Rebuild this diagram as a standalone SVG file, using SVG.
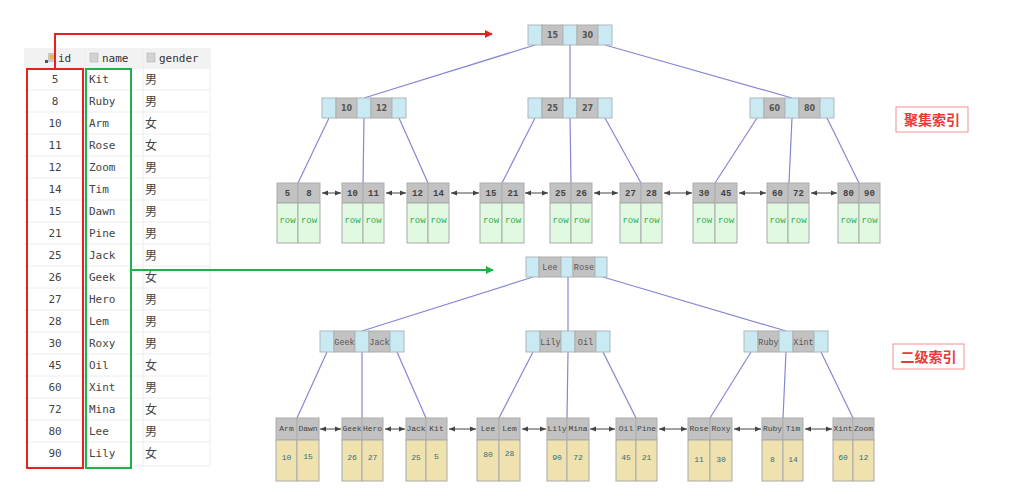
<svg xmlns="http://www.w3.org/2000/svg" width="1030" height="498" viewBox="0 0 1030 498">
<defs>
<style>
.c{fill:#c9eaf2;stroke:#adb8bb;stroke-width:1}
.g{fill:#c2c2c2;stroke:#adadad;stroke-width:1}
.gr{fill:#e0f9e0;stroke:#aaaaaa;stroke-width:1}
.ye{fill:#efe2ae;stroke:#aaaaaa;stroke-width:1}
.kn{font-family:"DejaVu Sans",sans-serif;font-weight:bold;font-size:8px;fill:#555;text-anchor:middle}
.ks{font-family:"Liberation Mono",monospace;font-size:8.5px;fill:#555;text-anchor:middle}
.ln{font-family:"Liberation Mono",monospace;font-weight:bold;font-size:9px;fill:#444;text-anchor:middle}
.rw{font-family:"Liberation Mono",monospace;font-size:9px;fill:#2fb04f;text-anchor:middle}
.sn{font-family:"Liberation Mono",monospace;font-size:8px;fill:#444;text-anchor:middle}
.sv{font-family:"Liberation Mono",monospace;font-size:8px;fill:#2f6f80;text-anchor:middle}
.e{stroke:#8686d6;stroke-width:1.2;fill:none}
.la{stroke:#444;stroke-width:1;fill:none;marker-start:url(#ah);marker-end:url(#ah)}
.tt{font-family:"DejaVu Sans Mono",monospace;font-size:11px;fill:#444}
.tc{font-family:"Noto Sans CJK SC",sans-serif;font-size:12px;fill:#444}
.th{font-family:"DejaVu Sans Mono",monospace;font-size:11px;fill:#333}
.rl{stroke:#ececec;stroke-width:1}
.lb{font-family:"Noto Sans CJK SC",sans-serif;font-size:14px;font-weight:bold;fill:#e83a3a;text-anchor:middle}
</style>
<marker id="ah" viewBox="0 0 10 10" refX="10" refY="5" markerWidth="6" markerHeight="6" orient="auto-start-reverse" markerUnits="userSpaceOnUse"><path d="M0,1 L10,5 L0,9 z" fill="#444"/></marker>
<marker id="ar" viewBox="0 0 10 10" refX="9" refY="5" markerWidth="8" markerHeight="8" orient="auto" markerUnits="userSpaceOnUse"><path d="M0,0 L10,5 L0,10 z" fill="#e82020"/></marker>
<marker id="ag" viewBox="0 0 10 10" refX="9" refY="5" markerWidth="8" markerHeight="8" orient="auto" markerUnits="userSpaceOnUse"><path d="M0,0 L10,5 L0,10 z" fill="#1db34a"/></marker>
</defs>
<rect width="1030" height="498" fill="#ffffff"/>

<!-- Table -->
<g id="table">
<rect x="24" y="48" width="186" height="20" fill="#f2f2f2"/>
<g class="rl">
<line x1="24" y1="68" x2="210" y2="68"/>
<line x1="24" y1="90" x2="210" y2="90"/>
<line x1="24" y1="112" x2="210" y2="112"/>
<line x1="24" y1="134" x2="210" y2="134"/>
<line x1="24" y1="156" x2="210" y2="156"/>
<line x1="24" y1="178" x2="210" y2="178"/>
<line x1="24" y1="200" x2="210" y2="200"/>
<line x1="24" y1="222" x2="210" y2="222"/>
<line x1="24" y1="244" x2="210" y2="244"/>
<line x1="24" y1="266" x2="210" y2="266"/>
<line x1="24" y1="288" x2="210" y2="288"/>
<line x1="24" y1="310" x2="210" y2="310"/>
<line x1="24" y1="332" x2="210" y2="332"/>
<line x1="24" y1="354" x2="210" y2="354"/>
<line x1="24" y1="376" x2="210" y2="376"/>
<line x1="24" y1="398" x2="210" y2="398"/>
<line x1="24" y1="420" x2="210" y2="420"/>
<line x1="24" y1="442" x2="210" y2="442"/>
<line x1="24" y1="466" x2="210" y2="466"/>
<line x1="85" y1="48" x2="85" y2="466"/>
<line x1="143" y1="48" x2="143" y2="466"/>
<line x1="210" y1="48" x2="210" y2="466"/>
</g>
<g id="icons">
<rect x="48" y="53" width="7" height="9" fill="#c8c8c8"/>
<rect x="45" y="60" width="3" height="3" fill="#555"/>
<rect x="50" y="55" width="4" height="4" fill="#e6b84a"/>
<rect x="90" y="53" width="8" height="9" fill="#d2d2d2" stroke="#b5b5b5" stroke-width="0.6"/>
<rect x="147" y="53" width="8" height="9" fill="#d2d2d2" stroke="#b5b5b5" stroke-width="0.6"/>
</g>
<text class="th" x="58" y="62">id</text>
<text class="th" x="102" y="62">name</text>
<text class="th" x="159" y="62">gender</text>
<g text-anchor="middle" class="tt">
<text x="55" y="83">5</text><text x="55" y="105">8</text><text x="55" y="127">10</text><text x="55" y="149">11</text>
<text x="55" y="171">12</text><text x="55" y="193">14</text><text x="55" y="215">15</text><text x="55" y="237">21</text>
<text x="55" y="259">25</text><text x="55" y="281">26</text><text x="55" y="303">27</text><text x="55" y="325">28</text>
<text x="55" y="347">30</text><text x="55" y="369">45</text><text x="55" y="391">60</text><text x="55" y="413">72</text>
<text x="55" y="435">80</text><text x="55" y="457">90</text>
</g>
<g class="tt">
<text x="89" y="83">Kit</text><text x="89" y="105">Ruby</text><text x="89" y="127">Arm</text><text x="89" y="149">Rose</text>
<text x="89" y="171">Zoom</text><text x="89" y="193">Tim</text><text x="89" y="215">Dawn</text><text x="89" y="237">Pine</text>
<text x="89" y="259">Jack</text><text x="89" y="281">Geek</text><text x="89" y="303">Hero</text><text x="89" y="325">Lem</text>
<text x="89" y="347">Roxy</text><text x="89" y="369">Oil</text><text x="89" y="391">Xint</text><text x="89" y="413">Mina</text>
<text x="89" y="435">Lee</text><text x="89" y="457">Lily</text>
</g>
<g class="tc">
<text x="145" y="84">男</text><text x="145" y="106">男</text><text x="145" y="128">女</text><text x="145" y="150">女</text>
<text x="145" y="172">男</text><text x="145" y="194">男</text><text x="145" y="216">男</text><text x="145" y="238">男</text>
<text x="145" y="260">男</text><text x="145" y="282">女</text><text x="145" y="304">男</text><text x="145" y="326">男</text>
<text x="145" y="348">男</text><text x="145" y="370">女</text><text x="145" y="392">男</text><text x="145" y="414">女</text>
<text x="145" y="436">男</text><text x="145" y="458">女</text>
</g>
<rect x="27" y="69" width="56" height="399" fill="none" stroke="#e82020" stroke-width="2"/>
<rect x="86" y="69" width="45" height="399" fill="none" stroke="#1db34a" stroke-width="2"/>
</g>

<!-- Connectors -->
<g id="connectors">
<path d="M55,69 V34 H492" fill="none" stroke="#e82020" stroke-width="2" marker-end="url(#ar)"/>
<path d="M132,270 H493" fill="none" stroke="#1db34a" stroke-width="2" marker-end="url(#ag)"/>
<line class="e" x1="535" y1="45" x2="364" y2="98"/>
<line class="e" x1="570" y1="45" x2="570" y2="98"/>
<line class="e" x1="605" y1="45" x2="792" y2="98"/>
<line class="e" x1="329" y1="118" x2="298" y2="183"/>
<line class="e" x1="364" y1="118" x2="363" y2="183"/>
<line class="e" x1="399" y1="118" x2="428" y2="183"/>
<line class="e" x1="535" y1="118" x2="502" y2="183"/>
<line class="e" x1="570" y1="118" x2="571" y2="183"/>
<line class="e" x1="605" y1="118" x2="641" y2="183"/>
<line class="e" x1="757" y1="118" x2="715" y2="183"/>
<line class="e" x1="792" y1="118" x2="789" y2="183"/>
<line class="e" x1="827" y1="118" x2="859" y2="183"/>
<line class="la" x1="322" y1="193" x2="341" y2="193"/>
<line class="la" x1="386" y1="193" x2="406" y2="193"/>
<line class="la" x1="451" y1="193" x2="479" y2="193"/>
<line class="la" x1="525" y1="193" x2="548" y2="193"/>
<line class="la" x1="594" y1="193" x2="618" y2="193"/>
<line class="la" x1="664" y1="193" x2="692" y2="193"/>
<line class="la" x1="739" y1="193" x2="766" y2="193"/>
<line class="la" x1="811" y1="193" x2="837" y2="193"/>
<line class="e" x1="533" y1="277" x2="362" y2="331"/>
<line class="e" x1="568" y1="277" x2="568" y2="331"/>
<line class="e" x1="603" y1="277" x2="786" y2="331"/>
<line class="e" x1="327" y1="352" x2="297" y2="418"/>
<line class="e" x1="362" y1="352" x2="362" y2="418"/>
<line class="e" x1="397" y1="352" x2="426" y2="418"/>
<line class="e" x1="533" y1="352" x2="499" y2="418"/>
<line class="e" x1="568" y1="352" x2="567" y2="418"/>
<line class="e" x1="603" y1="352" x2="636" y2="418"/>
<line class="e" x1="751" y1="352" x2="710" y2="418"/>
<line class="e" x1="786" y1="352" x2="783" y2="418"/>
<line class="e" x1="821" y1="352" x2="853" y2="418"/>
<line class="la" x1="320" y1="429" x2="341" y2="429"/>
<line class="la" x1="385" y1="429" x2="405" y2="429"/>
<line class="la" x1="449" y1="429" x2="476" y2="429"/>
<line class="la" x1="522" y1="429" x2="546" y2="429"/>
<line class="la" x1="590" y1="429" x2="615" y2="429"/>
<line class="la" x1="659" y1="429" x2="687" y2="429"/>
<line class="la" x1="734" y1="429" x2="761" y2="429"/>
<line class="la" x1="805" y1="429" x2="832" y2="429"/>
</g>

<g id="c-root">
<rect class="c" x="528" y="25" width="14" height="20"/><rect class="g" x="542" y="25" width="21" height="20"/><rect class="c" x="563" y="25" width="14" height="20"/><rect class="g" x="577" y="25" width="21" height="20"/><rect class="c" x="598" y="25" width="14" height="20"/>
<text class="kn" x="552.5" y="38">15</text><text class="kn" x="587.5" y="38">30</text>
</g>
<g id="c-a">
<rect class="c" x="322" y="98" width="14" height="20"/><rect class="g" x="336" y="98" width="21" height="20"/><rect class="c" x="357" y="98" width="14" height="20"/><rect class="g" x="371" y="98" width="21" height="20"/><rect class="c" x="392" y="98" width="14" height="20"/>
<text class="kn" x="346.5" y="111">10</text><text class="kn" x="381.5" y="111">12</text>
</g>
<g id="c-b">
<rect class="c" x="528" y="98" width="14" height="20"/><rect class="g" x="542" y="98" width="21" height="20"/><rect class="c" x="563" y="98" width="14" height="20"/><rect class="g" x="577" y="98" width="21" height="20"/><rect class="c" x="598" y="98" width="14" height="20"/>
<text class="kn" x="552.5" y="111">25</text><text class="kn" x="587.5" y="111">27</text>
</g>
<g id="c-c">
<rect class="c" x="750" y="98" width="14" height="20"/><rect class="g" x="764" y="98" width="21" height="20"/><rect class="c" x="785" y="98" width="14" height="20"/><rect class="g" x="799" y="98" width="21" height="20"/><rect class="c" x="820" y="98" width="14" height="20"/>
<text class="kn" x="774.5" y="111">60</text><text class="kn" x="809.5" y="111">80</text>
</g>

<g id="c-leaf1"><rect class="g" x="277" y="183" width="21" height="20"/><rect class="g" x="298" y="183" width="22" height="20"/><rect class="gr" x="277" y="203" width="21" height="40"/><rect class="gr" x="298" y="203" width="22" height="40"/>
<text class="ln" x="287.5" y="196">5</text><text class="ln" x="309" y="196">8</text><text class="rw" x="287.5" y="223">row</text><text class="rw" x="309" y="223">row</text></g>
<g id="c-leaf2"><rect class="g" x="342" y="183" width="21" height="20"/><rect class="g" x="363" y="183" width="21" height="20"/><rect class="gr" x="342" y="203" width="21" height="40"/><rect class="gr" x="363" y="203" width="21" height="40"/>
<text class="ln" x="352.5" y="196">10</text><text class="ln" x="373.5" y="196">11</text><text class="rw" x="352.5" y="223">row</text><text class="rw" x="373.5" y="223">row</text></g>
<g id="c-leaf3"><rect class="g" x="407" y="183" width="21" height="20"/><rect class="g" x="428" y="183" width="21" height="20"/><rect class="gr" x="407" y="203" width="21" height="40"/><rect class="gr" x="428" y="203" width="21" height="40"/>
<text class="ln" x="417.5" y="196">12</text><text class="ln" x="438.5" y="196">14</text><text class="rw" x="417.5" y="223">row</text><text class="rw" x="438.5" y="223">row</text></g>
<g id="c-leaf4"><rect class="g" x="480" y="183" width="22" height="20"/><rect class="g" x="502" y="183" width="22" height="20"/><rect class="gr" x="480" y="203" width="22" height="40"/><rect class="gr" x="502" y="203" width="22" height="40"/>
<text class="ln" x="491" y="196">15</text><text class="ln" x="513" y="196">21</text><text class="rw" x="491" y="223">row</text><text class="rw" x="513" y="223">row</text></g>
<g id="c-leaf5"><rect class="g" x="550" y="183" width="21" height="20"/><rect class="g" x="571" y="183" width="21" height="20"/><rect class="gr" x="550" y="203" width="21" height="40"/><rect class="gr" x="571" y="203" width="21" height="40"/>
<text class="ln" x="560.5" y="196">25</text><text class="ln" x="581.5" y="196">26</text><text class="rw" x="560.5" y="223">row</text><text class="rw" x="581.5" y="223">row</text></g>
<g id="c-leaf6"><rect class="g" x="620" y="183" width="21" height="20"/><rect class="g" x="641" y="183" width="21" height="20"/><rect class="gr" x="620" y="203" width="21" height="40"/><rect class="gr" x="641" y="203" width="21" height="40"/>
<text class="ln" x="630.5" y="196">27</text><text class="ln" x="651.5" y="196">28</text><text class="rw" x="630.5" y="223">row</text><text class="rw" x="651.5" y="223">row</text></g>
<g id="c-leaf7"><rect class="g" x="693" y="183" width="22" height="20"/><rect class="g" x="715" y="183" width="22" height="20"/><rect class="gr" x="693" y="203" width="22" height="40"/><rect class="gr" x="715" y="203" width="22" height="40"/>
<text class="ln" x="704" y="196">30</text><text class="ln" x="726" y="196">45</text><text class="rw" x="704" y="223">row</text><text class="rw" x="726" y="223">row</text></g>
<g id="c-leaf8"><rect class="g" x="767" y="183" width="21" height="20"/><rect class="g" x="788" y="183" width="21" height="20"/><rect class="gr" x="767" y="203" width="21" height="40"/><rect class="gr" x="788" y="203" width="21" height="40"/>
<text class="ln" x="777.5" y="196">60</text><text class="ln" x="798.5" y="196">72</text><text class="rw" x="777.5" y="223">row</text><text class="rw" x="798.5" y="223">row</text></g>
<g id="c-leaf9"><rect class="g" x="838" y="183" width="21" height="20"/><rect class="g" x="859" y="183" width="21" height="20"/><rect class="gr" x="838" y="203" width="21" height="40"/><rect class="gr" x="859" y="203" width="21" height="40"/>
<text class="ln" x="848.5" y="196">80</text><text class="ln" x="869.5" y="196">90</text><text class="rw" x="848.5" y="223">row</text><text class="rw" x="869.5" y="223">row</text></g>

<g id="s-root">
<rect class="c" x="526" y="257" width="13" height="20"/><rect class="g" x="539" y="257" width="22" height="20"/><rect class="c" x="561" y="257" width="12" height="20"/><rect class="g" x="573" y="257" width="22" height="20"/><rect class="c" x="595" y="257" width="12" height="20"/>
<text class="ks" x="550" y="270">Lee</text><text class="ks" x="584" y="270">Rose</text>
</g>
<g id="s-d">
<rect class="c" x="320" y="331" width="14" height="21"/><rect class="g" x="334" y="331" width="21" height="21"/><rect class="c" x="355" y="331" width="14" height="21"/><rect class="g" x="369" y="331" width="21" height="21"/><rect class="c" x="390" y="331" width="14" height="21"/>
<text class="ks" x="344.5" y="345">Geek</text><text class="ks" x="379.5" y="345">Jack</text>
</g>
<g id="s-e">
<rect class="c" x="526" y="331" width="14" height="21"/><rect class="g" x="540" y="331" width="21" height="21"/><rect class="c" x="561" y="331" width="14" height="21"/><rect class="g" x="575" y="331" width="21" height="21"/><rect class="c" x="596" y="331" width="14" height="21"/>
<text class="ks" x="550.5" y="345">Lily</text><text class="ks" x="585.5" y="345">Oil</text>
</g>
<g id="s-f">
<rect class="c" x="744" y="331" width="14" height="21"/><rect class="g" x="758" y="331" width="21" height="21"/><rect class="c" x="779" y="331" width="14" height="21"/><rect class="g" x="793" y="331" width="21" height="21"/><rect class="c" x="814" y="331" width="14" height="21"/>
<text class="ks" x="768.5" y="345">Ruby</text><text class="ks" x="803.5" y="345">Xint</text>
</g>

<g id="s-leaf1"><rect class="g" x="276" y="418" width="21" height="22"/><rect class="g" x="297" y="418" width="22" height="22"/><rect class="ye" x="276" y="440" width="21" height="41"/><rect class="ye" x="297" y="440" width="22" height="41"/>
<text class="sn" x="286.5" y="431">Arm</text><text class="sn" x="308" y="431">Dawn</text><text class="sv" x="286.5" y="460">10</text><text class="sv" x="308" y="459">15</text></g>
<g id="s-leaf2"><rect class="g" x="342" y="418" width="20" height="22"/><rect class="g" x="362" y="418" width="21" height="22"/><rect class="ye" x="342" y="440" width="20" height="41"/><rect class="ye" x="362" y="440" width="21" height="41"/>
<text class="sn" x="352" y="431">Geek</text><text class="sn" x="372.5" y="431">Hero</text><text class="sv" x="352" y="460">26</text><text class="sv" x="372.5" y="460">27</text></g>
<g id="s-leaf3"><rect class="g" x="406" y="418" width="20" height="22"/><rect class="g" x="426" y="418" width="21" height="22"/><rect class="ye" x="406" y="440" width="20" height="41"/><rect class="ye" x="426" y="440" width="21" height="41"/>
<text class="sn" x="416" y="431">Jack</text><text class="sn" x="436.5" y="431">Kit</text><text class="sv" x="416" y="460">25</text><text class="sv" x="436.5" y="459">5</text></g>
<g id="s-leaf4"><rect class="g" x="477" y="418" width="22" height="22"/><rect class="g" x="499" y="418" width="21" height="22"/><rect class="ye" x="477" y="440" width="22" height="41"/><rect class="ye" x="499" y="440" width="21" height="41"/>
<text class="sn" x="488" y="431">Lee</text><text class="sn" x="509.5" y="431">Lem</text><text class="sv" x="488" y="457">80</text><text class="sv" x="509.5" y="456">28</text></g>
<g id="s-leaf5"><rect class="g" x="547" y="418" width="20" height="22"/><rect class="g" x="567" y="418" width="22" height="22"/><rect class="ye" x="547" y="440" width="20" height="41"/><rect class="ye" x="567" y="440" width="22" height="41"/>
<text class="sn" x="557" y="431">Lily</text><text class="sn" x="578" y="431">Mina</text><text class="sv" x="557" y="460">90</text><text class="sv" x="578" y="460">72</text></g>
<g id="s-leaf6"><rect class="g" x="616" y="418" width="20" height="22"/><rect class="g" x="636" y="418" width="21" height="22"/><rect class="ye" x="616" y="440" width="20" height="41"/><rect class="ye" x="636" y="440" width="21" height="41"/>
<text class="sn" x="626" y="431">Oil</text><text class="sn" x="646.5" y="431">Pine</text><text class="sv" x="626" y="460">45</text><text class="sv" x="646.5" y="460">21</text></g>
<g id="s-leaf7"><rect class="g" x="688" y="418" width="22" height="22"/><rect class="g" x="710" y="418" width="22" height="22"/><rect class="ye" x="688" y="440" width="22" height="41"/><rect class="ye" x="710" y="440" width="22" height="41"/>
<text class="sn" x="699" y="431">Rose</text><text class="sn" x="721" y="431">Roxy</text><text class="sv" x="699" y="462">11</text><text class="sv" x="721" y="462">30</text></g>
<g id="s-leaf8"><rect class="g" x="762" y="418" width="21" height="22"/><rect class="g" x="783" y="418" width="20" height="22"/><rect class="ye" x="762" y="440" width="21" height="41"/><rect class="ye" x="783" y="440" width="20" height="41"/>
<text class="sn" x="772.5" y="431">Ruby</text><text class="sn" x="793" y="431">Tim</text><text class="sv" x="772.5" y="462">8</text><text class="sv" x="793" y="462">14</text></g>
<g id="s-leaf9"><rect class="g" x="833" y="418" width="20" height="22"/><rect class="g" x="853" y="418" width="21" height="22"/><rect class="ye" x="833" y="440" width="20" height="41"/><rect class="ye" x="853" y="440" width="21" height="41"/>
<text class="sn" x="843" y="431">Xint</text><text class="sn" x="863.5" y="431">Zoom</text><text class="sv" x="843" y="460">60</text><text class="sv" x="863.5" y="460">12</text></g>

<g id="label-clustered">
<rect x="896" y="107" width="72" height="25" fill="#ffffff" stroke="#f29090" stroke-width="1"/>
<text class="lb" x="932" y="125">聚集索引</text>
</g>
<g id="label-secondary">
<rect x="893" y="344" width="71" height="25" fill="#ffffff" stroke="#f29090" stroke-width="1"/>
<text class="lb" x="928.5" y="362">二级索引</text>
</g>
</svg>
